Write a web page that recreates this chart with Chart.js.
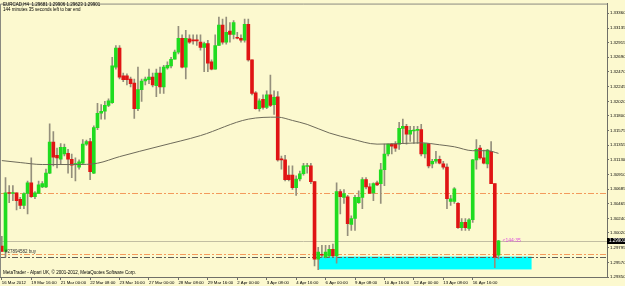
<!DOCTYPE html>
<html>
<head>
<meta charset="utf-8">
<title>EURCAD,H4</title>
<script src="https://cdn.jsdelivr.net/npm/chart.js@4/dist/chart.umd.min.js"></script>
<style>
  html, body { margin: 0; padding: 0; background: #fcf9cf; }
  canvas { display: block; }
</style>
</head>
<body>
<canvas id="chart" width="625" height="286"></canvas>
<script>
// EURCAD H4, 16 Mar 2012 08:00 .. 17 Apr 2012
const open = [
  1.2982, 1.2974, 1.3063, 1.3062, 1.3063, 1.3053, 1.3044, 1.3062, 1.3078, 1.3057,
  1.3062, 1.3072, 1.3072, 1.3093, 1.3140, 1.3120, 1.3114, 1.3122, 1.3123, 1.3114,
  1.3106, 1.3102, 1.3108, 1.3137, 1.3141, 1.3093, 1.3162, 1.3184, 1.3187, 1.3196,
  1.3200, 1.3254, 1.3283, 1.3241, 1.3241, 1.3236, 1.3230, 1.3191, 1.3220, 1.3233,
  1.3235, 1.3239, 1.3226, 1.3245, 1.3224, 1.3253, 1.3256, 1.3266, 1.3277, 1.3298,
  1.3254, 1.3297, 1.3295, 1.3295, 1.3292, 1.3284, 1.3290, 1.3262, 1.3251, 1.3287,
  1.3318, 1.3292, 1.3309, 1.3304, 1.3299, 1.3298, 1.3295, 1.3319, 1.3265, 1.3215,
  1.3191, 1.3205, 1.3193, 1.3212, 1.3197, 1.3209, 1.3114, 1.3113, 1.3090, 1.3090,
  1.3071, 1.3084, 1.3092, 1.3103, 1.3104, 1.3080, 1.2962, 1.2969, 1.2965, 1.2967,
  1.2977, 1.2967, 1.3065, 1.3056, 1.3057, 1.3015, 1.3024, 1.3048, 1.3056, 1.3083,
  1.3072, 1.3063, 1.3078, 1.3077, 1.3098, 1.3122, 1.3137, 1.3137, 1.3137, 1.3161,
  1.3164, 1.3152, 1.3157, 1.3158, 1.3159, 1.3122, 1.3138, 1.3107, 1.3111, 1.3114,
  1.3107, 1.3102, 1.3050, 1.3050, 1.3047, 1.3010, 1.3018, 1.3009, 1.3022, 1.3113,
  1.3131, 1.3116, 1.3107, 1.3126, 1.3077, 1.29681
];
const high = [
  1.2997, 1.3086, 1.3074, 1.3074, 1.3063, 1.3056, 1.3063, 1.3081, 1.3116, 1.3065,
  1.3081, 1.3080, 1.3099, 1.3168, 1.3156, 1.3131, 1.3138, 1.3137, 1.3129, 1.3122,
  1.3116, 1.3113, 1.3144, 1.3143, 1.3146, 1.3165, 1.3199, 1.3197, 1.3202, 1.3206,
  1.3269, 1.3287, 1.3287, 1.3245, 1.3244, 1.3239, 1.3236, 1.3254, 1.3236, 1.3239,
  1.3251, 1.3245, 1.3251, 1.3254, 1.3257, 1.3262, 1.3269, 1.3280, 1.3316, 1.3303,
  1.3310, 1.3303, 1.3303, 1.3303, 1.3303, 1.3292, 1.3295, 1.3265, 1.3303, 1.3330,
  1.3327, 1.3330, 1.3322, 1.3325, 1.3307, 1.3303, 1.3327, 1.3327, 1.3265, 1.3217,
  1.3206, 1.3212, 1.3218, 1.3242, 1.3218, 1.3217, 1.3119, 1.3120, 1.3104, 1.3104,
  1.3089, 1.3096, 1.3108, 1.3108, 1.3108, 1.3080, 1.2980, 1.2983, 1.2983, 1.2983,
  1.2985, 1.3078, 1.3068, 1.3068, 1.3059, 1.3028, 1.3059, 1.3066, 1.3086, 1.3086,
  1.3077, 1.3078, 1.3081, 1.3108, 1.3137, 1.3137, 1.3138, 1.3141, 1.3170, 1.3175,
  1.3167, 1.3164, 1.3164, 1.3164, 1.3167, 1.3138, 1.3138, 1.3114, 1.3126, 1.3119,
  1.3111, 1.3107, 1.3059, 1.3071, 1.3048, 1.3024, 1.3024, 1.3024, 1.3114, 1.3144,
  1.3135, 1.3128, 1.3129, 1.3141, 1.3077, 1.29906
];
const low = [
  1.2974, 1.2965, 1.3048, 1.3051, 1.3037, 1.3039, 1.3039, 1.3031, 1.3056, 1.3054,
  1.3062, 1.3071, 1.3071, 1.3092, 1.3104, 1.3101, 1.3107, 1.3119, 1.3093, 1.3086,
  1.3081, 1.3099, 1.3107, 1.3135, 1.3083, 1.3092, 1.3159, 1.3175, 1.3175, 1.3194,
  1.3199, 1.3251, 1.3236, 1.3232, 1.3227, 1.3224, 1.3176, 1.3188, 1.3202, 1.3227,
  1.3229, 1.3224, 1.3209, 1.3214, 1.3214, 1.3251, 1.3253, 1.3266, 1.3274, 1.3253,
  1.3236, 1.3290, 1.3289, 1.3287, 1.3280, 1.3247, 1.3247, 1.3250, 1.3251, 1.3287,
  1.3289, 1.3289, 1.3292, 1.3297, 1.3297, 1.3292, 1.3292, 1.3263, 1.3212, 1.3190,
  1.3187, 1.3190, 1.3191, 1.3194, 1.3182, 1.3111, 1.3099, 1.3081, 1.3081, 1.3068,
  1.3059, 1.3081, 1.3090, 1.3093, 1.3077, 1.2952, 1.2946, 1.2965, 1.2964, 1.2965,
  1.2965, 1.2956, 1.3031, 1.3047, 1.2998, 1.3006, 1.3006, 1.3047, 1.3039, 1.3069,
  1.3062, 1.3051, 1.3074, 1.3047, 1.3074, 1.3119, 1.3122, 1.3126, 1.3129, 1.3138,
  1.3137, 1.3141, 1.3138, 1.3138, 1.3119, 1.3116, 1.3101, 1.3101, 1.3108, 1.3107,
  1.3099, 1.3039, 1.3044, 1.3047, 1.3009, 1.3006, 1.3006, 1.3006, 1.3018, 1.3099,
  1.3114, 1.3107, 1.3101, 1.3077, 1.2949, 1.29623
];
const close = [
  1.2974, 1.3063, 1.3062, 1.3063, 1.3051, 1.3044, 1.3062, 1.3078, 1.3057, 1.3063,
  1.3075, 1.3077, 1.3093, 1.3140, 1.3117, 1.3116, 1.3132, 1.3132, 1.3114, 1.3105,
  1.3107, 1.3110, 1.3137, 1.3141, 1.3095, 1.3162, 1.3184, 1.3187, 1.3196, 1.3203,
  1.3256, 1.3283, 1.3239, 1.3235, 1.3235, 1.3229, 1.3191, 1.3220, 1.3233, 1.3236,
  1.3239, 1.3227, 1.3245, 1.3224, 1.3254, 1.3257, 1.3266, 1.3277, 1.3298, 1.3254,
  1.3298, 1.3292, 1.3294, 1.3294, 1.3284, 1.3290, 1.3260, 1.3251, 1.3287, 1.3318,
  1.3292, 1.3307, 1.3304, 1.3322, 1.3298, 1.3295, 1.3319, 1.3265, 1.3214, 1.3191,
  1.3203, 1.3193, 1.3212, 1.3196, 1.3208, 1.3113, 1.3113, 1.3083, 1.3083, 1.3071,
  1.3084, 1.3092, 1.3104, 1.3104, 1.3080, 1.2962, 1.2973, 1.2968, 1.2973, 1.2977,
  1.2967, 1.3065, 1.3057, 1.3062, 1.3016, 1.3024, 1.3056, 1.3056, 1.3083, 1.3072,
  1.3062, 1.3077, 1.3075, 1.3098, 1.3122, 1.3137, 1.3134, 1.3131, 1.3161, 1.3164,
  1.3152, 1.3158, 1.3158, 1.3159, 1.3122, 1.3138, 1.3104, 1.3111, 1.3114, 1.3108,
  1.3102, 1.3054, 1.3054, 1.3069, 1.3010, 1.3018, 1.3010, 1.3022, 1.3113, 1.3129,
  1.3116, 1.3108, 1.3128, 1.3077, 1.2965, 1.29901
];

// moving average, read at a few bars
const maBar = [0, 5, 11, 20, 26, 32, 43, 54, 67, 75, 79, 83, 89, 95, 102, 109, 114, 119, 123, 128, 132, 135];
const maValue = [1.3112, 1.3109, 1.3106, 1.3106, 1.3108, 1.3118, 1.3134, 1.3150, 1.3175, 1.3178, 1.3173,
  1.3167, 1.3154, 1.3145, 1.3137, 1.3138, 1.3139, 1.3136, 1.3133, 1.3127, 1.3127, 1.3123];

// time axis: one label every 8 bars, chart shifted so there are empty slots on the right
const slots = 165;
const labelStep = 8;
const timeLabels = ['16 Mar 2012', '19 Mar 16:00', '21 Mar 00:00', '22 Mar 08:00', '23 Mar 16:00',
  '27 Mar 00:00', '28 Mar 08:00', '29 Mar 16:00', '2 Apr 00:00', '3 Apr 08:00', '4 Apr 16:00',
  '6 Apr 00:00', '9 Apr 08:00', '10 Apr 16:00', '12 Apr 00:00', '13 Apr 08:00', '16 Apr 16:00'];

const priceTicks = [1.29350, 1.29570, 1.29795, 1.30020, 1.30240, 1.30465, 1.30685, 1.30910, 1.31130,
  1.31355, 1.31575, 1.31800, 1.32020, 1.32245, 1.32470, 1.32690, 1.32915, 1.33135, 1.33360];
const priceMin = 1.29350;
const priceMax = 1.33507;

// objects on the chart
const orangeLevels = [1.3063, 1.2970];
const greyLevels = [1.2966];
const boxFrom = 86, boxTo = 144, boxTop = 1.2966, boxBottom = 1.29465;

const BG = '#fcf9cf';
const UP = '#1fdc1f';
const DOWN = '#e01414';
const FONT = '"Liberation Sans", Arial, sans-serif';

const slotLabels = Array.from({ length: slots }, (_, i) => i);
const maData = open.map(() => null);
maBar.forEach((b, k) => { maData[b] = maValue[k]; });
const lastClose = close[close.length - 1];

const decor = {
  id: 'decor',
  beforeDraw(chart) {
    const ctx = chart.ctx;
    ctx.save();
    ctx.fillStyle = BG;
    ctx.fillRect(0, 0, chart.width, chart.height);
    ctx.restore();
  },
  beforeDatasetsDraw(chart) {
    const { ctx, chartArea: a, scales: { x, y } } = chart;
    ctx.save();
    // cyan rectangle
    const x0 = x.getPixelForValue(boxFrom), x1 = x.getPixelForValue(boxTo);
    const y0 = y.getPixelForValue(boxTop), y1 = y.getPixelForValue(boxBottom);
    ctx.fillStyle = '#00ffff';
    ctx.fillRect(x0, y0, x1 - x0, y1 - y0);

    // bid line
    let py = Math.round(y.getPixelForValue(lastClose)) + 0.5;
    ctx.strokeStyle = '#c2bea2';
    ctx.lineWidth = 1;
    ctx.beginPath(); ctx.moveTo(a.left, py); ctx.lineTo(a.right, py); ctx.stroke();

    ctx.setLineDash([6, 2, 2, 2]);
    ctx.strokeStyle = '#f39a5c';
    orangeLevels.forEach(v => {
      py = Math.round(y.getPixelForValue(v)) + 0.5;
      ctx.beginPath(); ctx.moveTo(a.left, py); ctx.lineTo(a.right, py); ctx.stroke();
    });
    ctx.strokeStyle = '#5e5e58';
    greyLevels.forEach(v => {
      py = Math.round(y.getPixelForValue(v)) + 0.5;
      ctx.beginPath(); ctx.moveTo(a.left, py); ctx.lineTo(a.right, py); ctx.stroke();
    });
    ctx.restore();
  },
  afterDraw(chart) {
    const { ctx, chartArea: a, scales: { x, y } } = chart;
    ctx.save();
    // frame top / left
    ctx.strokeStyle = '#8a8a80';
    ctx.lineWidth = 1;
    ctx.beginPath();
    ctx.moveTo(a.left + 0.5, a.bottom); ctx.lineTo(a.left + 0.5, a.top + 0.5); ctx.lineTo(a.right, a.top + 0.5);
    ctx.stroke();

    ctx.textBaseline = 'middle';
    ctx.textAlign = 'left';
    ctx.font = '4.5px ' + FONT;
    ctx.fillStyle = '#000';
    ctx.fillText('EURCAD,H4  1.29681 1.29906 1.29623 1.29901', 3, 5);
    ctx.fillText('144 minutes 35 seconds left to bar end', 3, 9.5);
    ctx.fillText('MetaTrader - Alpari UK, \u00a9 2001-2012, MetaQuotes Software Corp.', 3, 273);

    ctx.fillStyle = '#333';
    ctx.fillText('#27894582 buy', 5, y.getPixelForValue(orangeLevels[1]) - 2.5);

    // bar timer next to the last candle
    const py = y.getPixelForValue(lastClose);
    ctx.fillStyle = '#dc4fdc';
    ctx.font = '5px ' + FONT;
    ctx.fillText('<144:35', x.getPixelForValue(close.length - 1) + 4, py);

    // current price box on the axis
    ctx.font = '4.5px ' + FONT;
    ctx.fillStyle = '#000';
    ctx.fillRect(a.right, Math.round(py) - 3, chart.width - a.right, 6);
    ctx.fillStyle = '#fff';
    ctx.fillText(lastClose.toFixed(5), a.right + 2, Math.round(py));
    ctx.restore();
  }
};

new Chart(document.getElementById('chart'), {
  type: 'bar',
  data: {
    labels: slotLabels,
    datasets: [
      {
        label: 'wick',
        data: low.map((l, i) => [l, high[i]]),
        backgroundColor: '#948f7c',
        barThickness: 1,
        grouped: false,
        order: 3
      },
      {
        label: 'body',
        data: open.map((o, i) => [o, close[i]]),
        backgroundColor: close.map((c, i) => c >= open[i] ? UP : DOWN),
        barThickness: 3,
        minBarLength: 1,
        grouped: false,
        order: 2
      },
      {
        type: 'line',
        label: 'MA',
        data: maData,
        borderColor: '#6e6b5a',
        borderWidth: 1,
        pointRadius: 0,
        spanGaps: true,
        cubicInterpolationMode: 'monotone',
        order: 1
      }
    ]
  },
  options: {
    responsive: false,
    animation: false,
    devicePixelRatio: 1,
    layout: { padding: { top: 1, left: 0, right: 0, bottom: 0 } },
    plugins: { legend: { display: false }, tooltip: { enabled: false } },
    scales: {
      x: {
        type: 'category',
        offset: true,
        border: { color: '#707068' },
        grid: {
          drawOnChartArea: false,
          offset: false,
          tickLength: 3,
          color: c => (c.index % labelStep === 0 && timeLabels[c.index / labelStep]) ? '#707068' : 'rgba(0,0,0,0)'
        },
        ticks: {
          autoSkip: false,
          maxRotation: 0,
          minRotation: 0,
          align: 'start',
          padding: 0,
          color: '#000',
          font: { size: 4.3, family: FONT },
          callback: (v, i) => (i % labelStep === 0 ? (timeLabels[i / labelStep] || '') : '')
        },
        afterFit: s => { s.height = 9; }
      },
      y: {
        position: 'right',
        min: priceMin,
        max: priceMax,
        border: { color: '#707068' },
        grid: { drawOnChartArea: false, tickLength: 2, color: '#707068' },
        afterBuildTicks: s => { s.ticks = priceTicks.map(v => ({ value: v })); },
        ticks: {
          autoSkip: false,
          padding: 1,
          color: '#000',
          font: { size: 4.3, family: FONT },
          callback: v => Number(v).toFixed(5)
        },
        afterFit: s => { s.width = 18; }
      }
    }
  },
  plugins: [decor]
});
</script>
</body>
</html>
